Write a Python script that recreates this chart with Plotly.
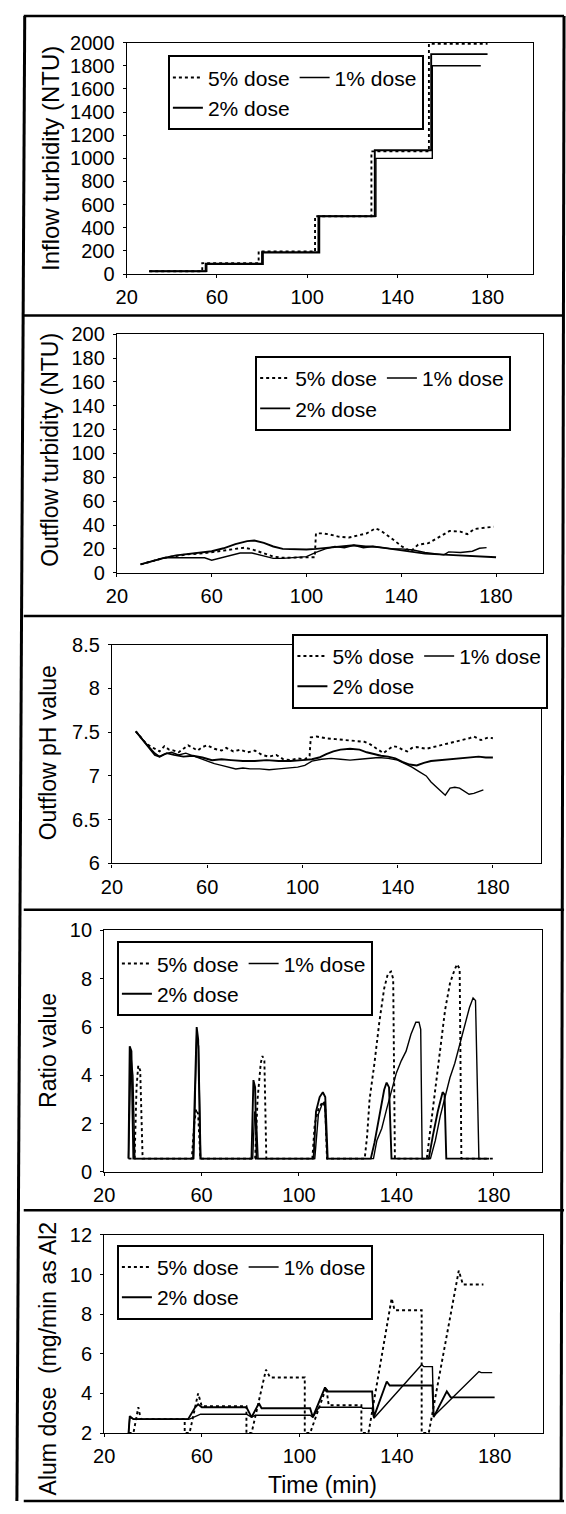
import plotly.graph_objects as go

W, H = 566, 1514
FONT = "Liberation Sans, Arial, Helvetica, sans-serif"

series_names = ["5% dose", "1% dose", "2% dose"]
x_ticks = [20, 60, 100, 140, 180]

# ---------------- Panel 1: inflow turbidity (NTU) ----------------
inflow_x_5 = [30, 53.5, 53.5, 78.5, 78.5, 103.5, 103.5, 128.5, 128.5, 154, 154, 180]
inflow_y_5 = [25, 25, 95, 95, 195, 195, 500, 500, 1060, 1060, 1990, 1990]
inflow_x_1 = [30, 55.5, 55.5, 80.5, 80.5, 105.5, 105.5, 130.5, 130.5, 155.5, 155.5, 177]
inflow_y_1 = [25, 25, 85, 85, 185, 185, 500, 500, 1000, 1000, 1800, 1800]
inflow_x_2 = [30, 55, 55, 80, 80, 105, 105, 130, 130, 155, 155, 180]
inflow_y_2 = [25, 25, 90, 90, 190, 190, 500, 500, 1070, 1070, 1900, 1900]

# ---------------- Panel 2: outflow turbidity (NTU) ----------------
outflow_x_5 = [30, 35, 40, 45, 50, 55, 60, 65, 70, 74, 78, 82, 86, 90, 95, 100, 103.5, 104,
               106.8, 110, 113.4, 117.9, 122.4, 125.4, 129.1, 131.4, 135.8, 140.3, 144, 147.1,
               151.5, 156, 160.4, 164.9, 167.9, 170.9, 175.4, 179]
outflow_y_5 = [7, 10, 12.5, 14, 15.5, 16, 17, 18.5, 20, 21, 19, 16, 13.5, 12.5, 12.5, 12.5, 13, 33,
               33, 32, 30.3, 29.5, 31.7, 33, 37.2, 35.3, 29, 22, 18, 23.5,
               24.8, 30, 35, 34.5, 32.3, 36.7, 38, 38.6]
outflow_x_1 = [30, 35, 40, 50, 57, 60, 63, 67, 72, 77, 82, 86, 90, 95, 100, 104, 108, 112, 116,
               120, 124, 128, 132, 136, 140, 145, 150, 155, 158, 160, 165, 170, 173, 176]
outflow_y_1 = [7, 10, 12.5, 12.5, 12.5, 10.5, 12, 14.5, 16.5, 16.5, 14, 12, 12, 13, 13.5, 17, 20,
               22, 21, 23, 21, 22, 21, 20, 20, 19, 17, 16, 15, 17.5, 17, 18, 20.5, 21]
outflow_x_2 = [30, 35, 40, 45, 50, 55, 60, 65, 70, 75, 78, 82, 86, 90, 95, 100, 104, 110, 115,
               120, 125, 128, 132, 140, 150, 160, 170, 180]
outflow_y_2 = [7, 10, 12.5, 14.5, 15.5, 16.5, 18, 20.5, 24, 26.5, 27, 25, 22, 20, 19.5, 19.5, 20,
               21, 22, 23, 22, 22, 21, 19, 16, 15, 14, 13]

# ---------------- Panel 3: outflow pH ----------------
ph_x_5 = [30, 32, 34, 36, 38, 40, 42, 44, 46, 48, 50, 52, 54, 56, 58, 60, 63, 66, 68, 71, 74, 77,
          80, 83, 86, 89, 92, 95, 98, 101, 103, 103.5, 106, 110, 114, 118, 122, 126, 128, 130,
          132, 134, 136, 138, 140, 142, 144, 146, 148, 150, 152, 155, 158, 162, 166, 170, 172,
          175, 178, 180]
ph_y_5 = [7.51, 7.44, 7.38, 7.34, 7.31, 7.28, 7.34, 7.30, 7.29, 7.27, 7.31, 7.35, 7.32, 7.29,
          7.33, 7.35, 7.31, 7.29, 7.32, 7.28, 7.30, 7.27, 7.29, 7.24, 7.22, 7.24, 7.19, 7.18,
          7.20, 7.19, 7.23, 7.44, 7.45, 7.43, 7.42, 7.41, 7.40, 7.39, 7.37, 7.33, 7.30, 7.26,
          7.30, 7.34, 7.33, 7.30, 7.28, 7.32, 7.33, 7.32, 7.31, 7.33, 7.35, 7.38, 7.40, 7.43,
          7.45, 7.41, 7.44, 7.43]
ph_x_1 = [30, 32, 34, 36, 38, 40, 42, 45, 48, 51, 54, 57, 60, 63, 66, 69, 72, 75, 78, 82, 86, 90,
          94, 98, 101, 104, 108, 112, 116, 120, 124, 128, 132, 136, 140, 143, 146, 149, 152,
          154, 156, 158, 160, 162, 164, 166, 168, 170, 172, 174, 176]
ph_y_1 = [7.51, 7.44, 7.38, 7.32, 7.26, 7.22, 7.25, 7.27, 7.24, 7.26, 7.23, 7.20, 7.17, 7.14,
          7.12, 7.10, 7.08, 7.09, 7.08, 7.08, 7.07, 7.08, 7.09, 7.10, 7.12, 7.17, 7.19, 7.20,
          7.19, 7.18, 7.19, 7.20, 7.21, 7.20, 7.18, 7.14, 7.10, 7.05, 7.00, 6.93, 6.88, 6.84,
          6.78, 6.86, 6.87, 6.86, 6.82, 6.79, 6.80, 6.82, 6.84]
ph_x_2 = [30, 32, 34, 36, 38, 40, 43, 46, 50, 54, 58, 62, 66, 70, 75, 80, 85, 90, 95, 100, 104,
          107, 110, 113, 116, 120, 124, 127, 130, 133, 136, 139, 142, 145, 148, 151, 154, 158,
          162, 166, 170, 174, 177, 180]
ph_y_2 = [7.51, 7.44, 7.38, 7.30, 7.24, 7.22, 7.26, 7.24, 7.22, 7.23, 7.21, 7.18, 7.19, 7.18,
          7.17, 7.17, 7.18, 7.17, 7.17, 7.18, 7.19, 7.21, 7.25, 7.28, 7.30, 7.31, 7.30, 7.27,
          7.25, 7.23, 7.22, 7.20, 7.16, 7.13, 7.12, 7.15, 7.17, 7.18, 7.19, 7.20, 7.21, 7.22,
          7.21, 7.21]

# ---------------- Panel 4: ratio value ----------------
ratio_x_5 = [30, 32.5, 33.3, 34, 34.8, 35.8, 56, 57, 57.8, 58.6, 59.5, 82, 83, 84.3, 85, 85.8,
             86.6, 105.5, 106.5, 108, 109.7, 110.8, 111.5, 127, 128, 129, 131, 133, 135, 136.5,
             137.8, 138.7, 139.4, 152.5, 154, 156, 158, 160, 162, 164, 165, 166, 166.7, 180]
ratio_y_5 = [0.55, 0.55, 3.5, 4.4, 4.2, 0.55, 0.55, 2.0, 2.6, 2.4, 0.55, 0.55, 3.0, 4.5, 4.8, 4.6,
             0.55, 0.55, 2.0, 2.6, 2.9, 2.7, 0.55, 0.55, 1.5, 3.0, 4.5, 6.2, 7.6, 8.2,
             8.3, 8.0, 0.55, 0.55, 1.8, 3.5, 5.2, 6.7, 7.8, 8.4, 8.6, 8.4, 0.55, 0.55]
ratio_x_1 = [30, 31, 31.8, 32.6, 56.8, 58, 58.8, 59.7, 81, 81.8, 82.5, 83.2, 106.5, 108, 109.5,
             110.5, 111.6, 130.6, 132, 134, 136, 138, 140, 142, 144, 146, 148, 149.3, 150, 150.6,
             154, 156, 158, 160, 162, 164, 166, 168, 170, 171.5, 172.5, 173.9, 178]
ratio_y_1 = [0.55, 4.8, 4.0, 0.55, 0.55, 5.7, 5.2, 0.55, 0.55, 2.5, 2.2, 0.55, 0.55, 2.4, 2.8,
             2.9, 0.55, 0.55, 1.3, 1.8, 2.6, 3.3, 4.1, 4.6, 5.0, 5.7, 6.2, 6.2, 5.9, 0.55,
             0.55, 1.3, 2.3, 3.1, 3.9, 4.5, 5.3, 6.1, 6.8, 7.2, 7.1, 0.55, 0.55]
ratio_x_2 = [30, 30.5, 31.2, 32, 56.5, 57.5, 58, 58.6, 59.5, 80.5, 81.3, 82, 82.6, 106, 107,
             108.5, 109.8, 110.8, 111.8, 129.5, 131, 133, 135, 136, 137, 138, 153.3, 155, 157,
             159, 159.8, 160.5, 178]
ratio_y_2 = [0.55, 5.2, 5.0, 0.55, 0.55, 5.0, 6.0, 5.5, 0.55, 0.55, 3.8, 3.5, 0.55, 0.55, 2.5,
             3.1, 3.3, 3.1, 0.55, 0.55, 1.2, 2.3, 3.4, 3.7, 3.5, 0.55, 0.55, 1.5, 2.5,
             3.3, 3.2, 0.55, 0.55]

# ---------------- Panel 5: alum dose ----------------
alum_x_5 = [30, 32, 34, 35, 53, 53, 55, 58.5, 60, 78.3, 78.3, 80.4, 86.3, 88, 102.2, 102.2,
            104.4, 111, 112, 125.4, 125.4, 128.3, 137.8, 139, 150.1, 150.1, 153, 165.3, 167,
            175.4]
alum_y_5 = [2, 2, 3.3, 2.7, 2.7, 2, 2, 4.0, 3.35, 3.35, 2, 2, 5.2, 4.8, 4.8, 2, 2, 4.3, 3.4,
            3.4, 2, 2, 8.8, 8.2, 8.2, 2, 2, 10.2, 9.5, 9.5]
alum_x_1 = [30, 30.5, 32, 55, 59.5, 78.3, 80.4, 82, 104.4, 105.5, 108, 125.4, 126, 129.8, 130.5,
            150.1, 151, 154.5, 155, 173.6, 174.5, 179]
alum_y_1 = [2, 2.8, 2.7, 2.7, 2.95, 2.95, 2.8, 2.9, 2.9, 2.8, 3.3, 3.3, 3.25, 3.25, 2.75, 5.45,
            5.35, 5.35, 2.85, 5.1, 5.05, 5.05]
alum_x_2 = [30, 30.5, 32, 54.4, 57.3, 58.5, 60, 78.3, 80.4, 83.4, 84.5, 104.4, 105.5, 110.5,
            111.7, 129.8, 130.5, 135.8, 137, 154.5, 155, 160.4, 162, 180]
alum_y_2 = [2, 2.85, 2.7, 2.7, 3.3, 3.45, 3.3, 3.3, 2.8, 3.5, 3.25, 3.25, 2.8, 4.3, 4.1, 4.1,
            2.8, 4.6, 4.4, 4.4, 2.8, 4.1, 3.8, 3.8]

y_titles = ["Inflow turbidity (NTU)", "Outflow turbidity (NTU)", "Outflow pH value",
            "Ratio value", "Alum dose  (mg/min as Al2"]
y_ranges = [[0, 2000], [0, 200], [6, 8.5], [0, 10], [2, 12]]
y_dticks = [200, 20, 0.5, 2, 2]
x_title = "Time (min)"

panel_data = [
    [(inflow_x_5, inflow_y_5), (inflow_x_1, inflow_y_1), (inflow_x_2, inflow_y_2)],
    [(outflow_x_5, outflow_y_5), (outflow_x_1, outflow_y_1), (outflow_x_2, outflow_y_2)],
    [(ph_x_5, ph_y_5), (ph_x_1, ph_y_1), (ph_x_2, ph_y_2)],
    [(ratio_x_5, ratio_y_5), (ratio_x_1, ratio_y_1), (ratio_x_2, ratio_y_2)],
    [(alum_x_5, alum_y_5), (alum_x_1, alum_y_1), (alum_x_2, alum_y_2)],
]

# ---------------- layout geometry (pixels) ----------------
plot_boxes = [  # left, top, right, bottom
    (118, 32, 532, 267),
    (108, 328, 543, 570),
    (103, 643, 540, 865),
    (95, 933, 542, 1178),
    (95, 1242, 543, 1443),
]
legend_pos = [(160, 45), (249, 350), (287, 632), (108, 944), (108, 1252)]
ytitle_pos = [(41, 150, 24), (39, 445, 23), (38, 753, 23), (37, 1055, 23), (38, 1367, 23)]

line_styles = [dict(dash="dot", width=1.9), dict(dash="solid", width=1.4),
               dict(dash="solid", width=1.9)]
groups = ["a", "b", "a"]


def px_x(p):
    return p / W


def px_y(p):
    return 1 - p / H


fig = go.Figure()
layout = dict(width=W, height=H, margin=dict(l=0, r=0, t=0, b=0),
              paper_bgcolor="white", plot_bgcolor="white",
              font=dict(family=FONT, color="black", size=20))

for i, data in enumerate(panel_data):
    n = i + 1
    xa = "x" if n == 1 else f"x{n}"
    ya = "y" if n == 1 else f"y{n}"
    lg = "legend" if n == 1 else f"legend{n}"
    for j, (xs, ys) in enumerate(data):
        fig.add_trace(go.Scatter(
            x=xs, y=ys, mode="lines", name=series_names[j],
            line=dict(color="black", **line_styles[j]),
            xaxis=xa, yaxis=ya, legend=lg, legendgroup=f"{groups[j]}{n}",
            showlegend=True))
    l, t, r, b = plot_boxes[i]
    axis_common = dict(showline=True, linecolor="black", linewidth=1.2, mirror=True,
                       showgrid=False, zeroline=False, ticks="outside", ticklen=3,
                       tickcolor="black", tickfont=dict(size=20, family=FONT, color="black"))
    layout["xaxis" if n == 1 else f"xaxis{n}"] = dict(
        domain=[px_x(l), px_x(r)], range=[20, 200], tickvals=x_ticks,
        anchor=ya, ticklabelstandoff=2, **axis_common)
    layout["yaxis" if n == 1 else f"yaxis{n}"] = dict(
        domain=[px_y(b), px_y(t)], range=y_ranges[i], dtick=y_dticks[i],
        tick0=y_ranges[i][0], anchor=xa, ticklabelstandoff=4, **axis_common)
    lx, ly = legend_pos[i]
    layout[lg] = dict(x=px_x(lx), y=px_y(ly), xanchor="left", yanchor="top",
                      orientation="h", traceorder="grouped", tracegroupgap=0,
                      bgcolor="white", bordercolor="black", borderwidth=2,
                      font=dict(size=21, family=FONT, color="black"))

annotations = []
for i, (tx, ty, fs) in enumerate(ytitle_pos):
    annotations.append(dict(text=y_titles[i], x=px_x(tx), y=px_y(ty), xref="paper",
                            yref="paper", showarrow=False, textangle=-90,
                            xanchor="center", yanchor="middle",
                            font=dict(size=fs, family=FONT, color="black")))
annotations.append(dict(text=x_title, x=px_x(318), y=px_y(1496), xref="paper", yref="paper",
                        showarrow=False, xanchor="center", yanchor="middle",
                        font=dict(size=23, family=FONT, color="black")))
layout["annotations"] = annotations

# outer frame and panel dividers
shapes = []
frame = dict(xref="paper", yref="paper", type="line", line=dict(color="black", width=3))
shapes.append(dict(frame, x0=px_x(14), y0=px_y(5), x1=px_x(6), y1=px_y(1512)))
shapes.append(dict(frame, x0=px_x(564), y0=px_y(5), x1=px_x(561), y1=px_y(1512)))
for yy in [5, 309, 614, 912, 1217, 1512]:
    shapes.append(dict(frame, x0=px_x(13), y0=px_y(yy), x1=px_x(564), y1=px_y(yy),
                       line=dict(color="black", width=2.5)))
layout["shapes"] = shapes

fig.update_layout(**layout)
fig.write_html("out.html")
